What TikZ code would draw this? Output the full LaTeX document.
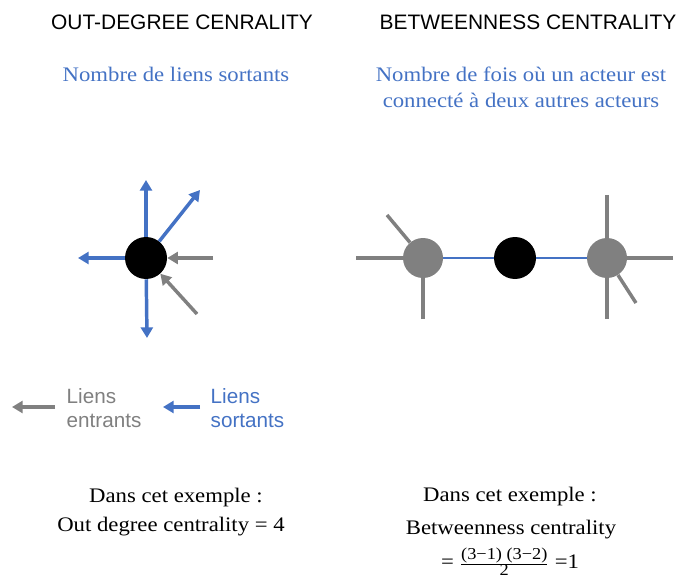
\documentclass[tikz,border=0pt]{standalone}
\usepackage{fontspec}
\setmainfont{Liberation Serif}[FakeStretch=1.1]
\newfontfamily\arialf{Liberation Sans}
\usetikzlibrary{arrows.meta}
\definecolor{myblue}{RGB}{68,114,196}
\definecolor{mygray}{RGB}{128,128,128}
\tikzset{
  blk/.style={circle,fill=black,minimum size=31.5pt,inner sep=0pt},
  gnode/.style={circle,fill=mygray,minimum size=30pt,inner sep=0pt},
  bluearr/.style={draw=myblue,line width=2.6pt,-{Triangle[length=8pt,width=9pt]}},
  grayarr/.style={draw=mygray,line width=2.6pt,-{Triangle[length=8pt,width=9pt]}},
  grayline/.style={draw=mygray,line width=2.6pt},
  blueline/.style={draw=myblue,line width=2pt},
  title/.style={font=\arialf\fontsize{15.7}{18}\selectfont,text=black},
  sub/.style={font=\fontsize{15.5}{19.5}\selectfont,text=myblue,align=center},
  legend/.style={font=\arialf\fontsize{15.5}{18}\selectfont,align=left,anchor=west},
  body/.style={font=\fontsize{15.5}{18}\selectfont,text=black}
}
\begin{document}
\begin{tikzpicture}[x=0.75pt,y=-0.75pt]
\useasboundingbox (0,0) rectangle (678,581);
% titles
\node[title] (t1) at (182,22) {OUT-DEGREE CENRALITY};
\node[title] (t2) at (528,22) {BETWEENNESS CENTRALITY};
\node[sub] (s1) at (176,74) {Nombre de liens sortants};
\node[sub] (s2) at (521,87) {Nombre de fois où un acteur est\\connecté à deux autres acteurs};
% left diagram
\node[blk] (c) at (146,258) {};
\coordinate (u) at (146,180);
\coordinate (ur) at (200,190);
\coordinate (l) at (78,258);
\coordinate (d) at (147,338);
\coordinate (ir) at (213,258);
\coordinate (idr) at (197,314);
\draw[bluearr] (c) -- (u);
\draw[bluearr] (c) -- (ur);
\draw[bluearr] (c) -- (l);
\draw[bluearr] (c) -- (d);
\draw[grayarr] (ir) -- (c);
\draw[grayarr] (idr) -- (c);
% right diagram
\node[gnode] (g1) at (423,258) {};
\node[blk] (b) at (515,258) {};
\node[gnode] (g2) at (607,258) {};
\coordinate (g1l) at (356,258);
\coordinate (g1ul) at (387,215);
\coordinate (g1d) at (423,319);
\coordinate (g2u) at (607,195);
\coordinate (g2r) at (673,258);
\coordinate (g2d) at (607,319);
\coordinate (g2dr) at (636,303);
\draw[grayline] (g1l) -- (g1);
\draw[grayline] (g1ul) -- (g1);
\draw[grayline] (g1d) -- (g1);
\draw[grayline] (g2u) -- (g2);
\draw[grayline] (g2r) -- (g2);
\draw[grayline] (g2d) -- (g2);
\draw[grayline] (g2dr) -- (g2);
\draw[blueline] (g1) -- (b);
\draw[blueline] (b) -- (g2);
% legend
\coordinate (la1) at (55,407);
\coordinate (la2) at (12,407);
\draw[grayarr] (la1) -- (la2);
\node[legend,text=mygray] (lt1) at (62,408) {Liens\\entrants};
\coordinate (lb1) at (200,407);
\coordinate (lb2) at (163,407);
\draw[bluearr] (lb1) -- (lb2);
\node[legend,text=myblue] (lt2) at (206,408) {Liens\\sortants};
% bottom
\node[body] (d1) at (176,498) {Dans cet exemple :};
\node[body] (d2) at (171,527) {Out degree centrality = 4};
\node[body] (d3) at (510,497) {Dans cet exemple :};
\node[body] (d4) at (511,530) {Betweenness centrality};
\node[body] (d5) at (510,562) {= $\frac{\mbox{\fontsize{12.5}{13}\selectfont(3−1)~(3−2)}}{\mbox{\fontsize{12.5}{13}\selectfont 2}}$ =1};
\end{tikzpicture}
\end{document}
